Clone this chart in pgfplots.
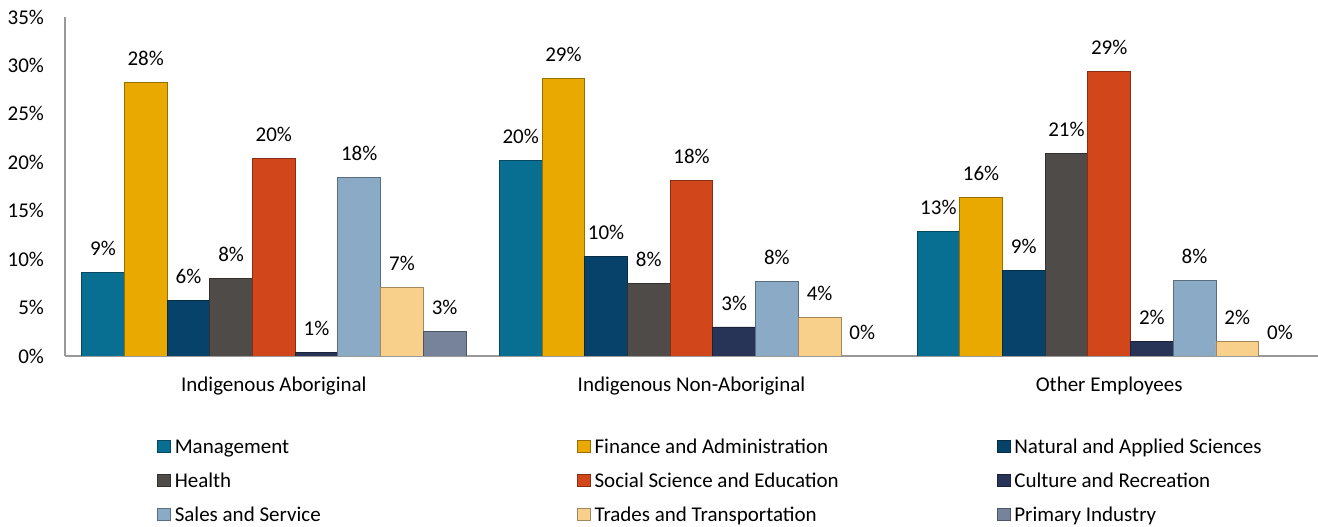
\documentclass[border=0pt]{standalone}
\usepackage{pgfplots}
\pgfplotsset{compat=1.18}
\usepackage{fontspec}
\setmainfont{Carlito}

\definecolor{cMan}{RGB}{8,110,146}
\definecolor{cFin}{RGB}{233,169,0}
\definecolor{cNat}{RGB}{7,66,106}
\definecolor{cHea}{RGB}{78,75,73}
\definecolor{cSoc}{RGB}{210,70,28}
\definecolor{cCul}{RGB}{39,52,87}
\definecolor{cSal}{RGB}{138,170,198}
\definecolor{cTra}{RGB}{248,208,140}
\definecolor{cPri}{RGB}{118,131,154}

\newcommand{\lblfont}{\fontsize{10.5}{12}\selectfont}
\newcommand{\legw}[1]{\makebox[199pt][l]{#1}}
\pgfplotsset{
  bev/.style={fill=#1, draw=#1!65!black, line width=0.4pt},
}

\begin{document}
\begin{tikzpicture}
\begin{axis}[
  width=626.5pt, height=169.5pt, scale only axis,
  ybar=0pt, bar width=21.35pt,
  xmin=-0.5, xmax=2.5, ymin=0, ymax=35,
  enlargelimits=false,
  xtick={0,1,2},
  xticklabels={Indigenous Aboriginal, Indigenous Non-Aboriginal, Other Employees},
  ytick={0,5,...,35},
  yticklabel={\pgfmathprintnumber{\tick}\%},
  /pgf/number format/assume math mode=true,
  axis x line*=bottom, axis y line*=left,
  axis line style={draw=black!40, line width=0.8pt, -},
  major tick length=0pt,
  every tick label/.append style={font=\lblfont, text=black},
  x tick label style={anchor=base, yshift=-17.8pt},
  y tick label style={xshift=-7pt},
  point meta=explicit symbolic,
  nodes near coords={\pgfplotspointmeta\%},
  every node near coord/.append style={font=\lblfont, text=black, anchor=center, yshift=12pt},
  legend image code/.code={\path[#1] (0pt,0.4pt) rectangle (6.5pt,6.4pt);},
  legend columns=3,
  legend style={at={(0.0734,-0.2345)}, anchor=north west, draw=none, fill=none,
    inner sep=0pt, outer sep=0pt, column sep=0pt, row sep=4pt, font=\lblfont,
    cells={anchor=base west},
    nodes={inner sep=2pt, text height=7pt, text depth=2pt}},
]
\addplot[bev=cMan] coordinates {(0,8.6)[9] (1,20.2)[20] (2,12.9)[13]};
\addplot[bev=cFin] coordinates {(0,28.2)[28] (1,28.7)[29] (2,16.4)[16]};
\addplot[bev=cNat] coordinates {(0,5.7)[6] (1,10.3)[10] (2,8.8)[9]};
\addplot[bev=cHea] coordinates {(0,8.0)[8] (1,7.5)[8] (2,20.9)[21]};
\addplot[bev=cSoc] coordinates {(0,20.4)[20] (1,18.1)[18] (2,29.4)[29]};
\addplot[bev=cCul] coordinates {(0,0.4)[1] (1,3.0)[3] (2,1.5)[2]};
\addplot[bev=cSal] coordinates {(0,18.4)[18] (1,7.7)[8] (2,7.8)[8]};
\addplot[bev=cTra] coordinates {(0,7.1)[7] (1,4.0)[4] (2,1.5)[2]};
\addplot[bev=cPri] coordinates {(0,2.5)[3] (1,0)[0] (2,0)[0]};
\legend{\legw{Management}, \legw{Finance and Administration}, \legw{Natural and Applied Sciences},
  \legw{Health}, \legw{Social Science and Education}, \legw{Culture and Recreation},
  \legw{Sales and Service}, \legw{Trades and Transportation}, \legw{Primary Industry}}
\coordinate (bl) at (rel axis cs:0,0);
\coordinate (tr) at (rel axis cs:1,1);
\end{axis}
\pgfresetboundingbox
\path ([xshift=-32.5pt,yshift=-85.5pt]bl) rectangle ([yshift=8.5pt]tr);
\end{tikzpicture}
\end{document}
